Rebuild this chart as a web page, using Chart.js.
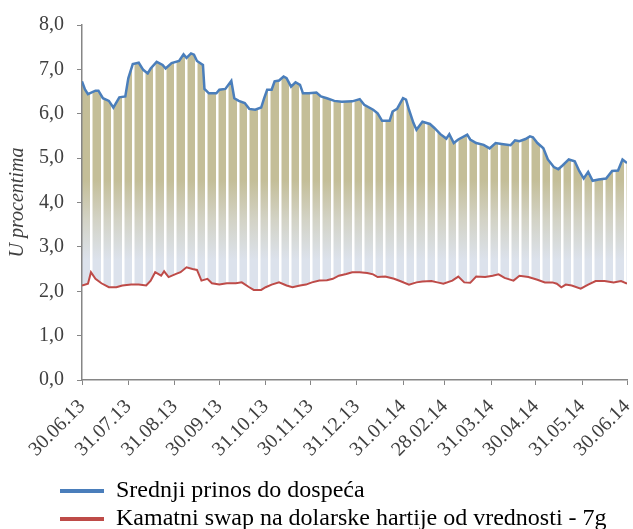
<!DOCTYPE html>
<html>
<head>
<meta charset="utf-8">
<script src="https://cdn.jsdelivr.net/npm/chart.js@4.4.1/dist/chart.umd.min.js"></script>
<style>
    html, body { margin: 0; padding: 0; background: #fff; }
    #wrap { width: 633px; height: 529px; }
</style>
</head>
<body>
<div id="wrap"><canvas id="yieldChart"></canvas></div>
<script>
// PODACI (dani od 30.06.13)
const tickDays = [0, 31, 62, 92, 123, 153, 184, 215, 243, 274, 304, 335, 365]
const tickLabels = ['30.06.13', '31.07.13', '31.08.13', '30.09.13', '31.10.13', '30.11.13',
    '31.12.13', '31.01.14', '28.02.14', '31.03.14', '30.04.14', '31.05.14', '30.06.14']

// Srednji prinos do dospeca
const yieldDays = [0, 2, 4, 9, 11, 14, 18, 21, 25, 29, 31, 34, 38, 41, 44, 46, 50, 54, 56, 60,
    65, 68, 70, 73, 75, 77, 81, 82, 85, 90, 92, 96, 100, 102, 105, 109, 112, 116, 120, 122,
    124, 127, 129, 132, 135, 137, 140, 143, 146, 148, 152, 157, 160, 164, 169, 174, 181, 186, 189, 195,
    198, 201, 206, 208, 211, 215, 217, 219, 222, 224, 228, 233, 236, 240, 244, 246, 249, 252, 258, 260,
    264, 269, 273, 277, 281, 287, 290, 293, 297, 300, 302, 305, 309, 312, 316, 319, 322, 326, 330, 333,
    336, 339, 342, 346, 351, 355, 359, 362, 365]
const yieldValues = [6.73, 6.55, 6.44, 6.52, 6.52, 6.35, 6.29, 6.14, 6.37, 6.39, 6.80, 7.12, 7.15, 6.99, 6.91, 7.02, 7.17, 7.10, 7.02, 7.14,
    7.19, 7.34, 7.26, 7.36, 7.33, 7.19, 7.10, 6.56, 6.46, 6.46, 6.54, 6.56, 6.74, 6.35, 6.29, 6.24, 6.11, 6.09, 6.14, 6.35,
    6.54, 6.54, 6.73, 6.75, 6.84, 6.80, 6.61, 6.71, 6.65, 6.46, 6.46, 6.48, 6.39, 6.35, 6.29, 6.27, 6.28, 6.33, 6.20, 6.09,
    6.01, 5.84, 5.84, 6.05, 6.11, 6.35, 6.32, 6.09, 5.79, 5.64, 5.82, 5.77, 5.68, 5.54, 5.44, 5.54, 5.34, 5.42, 5.53, 5.42,
    5.34, 5.30, 5.22, 5.34, 5.32, 5.29, 5.40, 5.38, 5.43, 5.49, 5.47, 5.34, 5.22, 4.97, 4.80, 4.75, 4.84, 4.97, 4.93, 4.71,
    4.54, 4.69, 4.49, 4.52, 4.54, 4.71, 4.72, 4.97, 4.89]

// Kamatni swap - 7g
const swapDays = [0, 4, 6, 9, 13, 18, 23, 27, 33, 38, 43, 46, 49, 53, 55, 58, 63, 66, 70, 74,
    77, 80, 84, 87, 92, 97, 103, 107, 112, 115, 120, 123, 127, 132, 137, 141, 146, 150, 154, 159,
    164, 168, 172, 177, 181, 186, 191, 195, 198, 203, 209, 213, 219, 224, 228, 234, 238, 242, 248, 252,
    256, 260, 264, 270, 275, 279, 283, 289, 293, 299, 305, 310, 315, 318, 321, 324, 328, 334, 339, 344,
    350, 356, 361, 365]
const swapValues = [2.13, 2.17, 2.43, 2.28, 2.18, 2.09, 2.09, 2.13, 2.15, 2.15, 2.13, 2.24, 2.43, 2.35, 2.45, 2.32, 2.39, 2.43, 2.54, 2.50,
    2.48, 2.24, 2.28, 2.18, 2.15, 2.18, 2.18, 2.20, 2.09, 2.03, 2.03, 2.09, 2.15, 2.20, 2.13, 2.09, 2.13, 2.15, 2.20, 2.24,
    2.25, 2.28, 2.35, 2.39, 2.43, 2.43, 2.41, 2.38, 2.32, 2.33, 2.28, 2.23, 2.15, 2.20, 2.22, 2.23, 2.20, 2.17, 2.24, 2.33,
    2.20, 2.19, 2.33, 2.32, 2.35, 2.38, 2.30, 2.24, 2.35, 2.32, 2.26, 2.20, 2.20, 2.17, 2.09, 2.15, 2.13, 2.06, 2.15, 2.23,
    2.23, 2.20, 2.23, 2.17]

const seriesNames = ['Srednji prinos do dospeća', 'Kamatni swap na dolarske hartije od vrednosti - 7g']
const seriesColors = ['#4A7EBB', '#BE4B48']

const FONT = "'Liberation Serif', 'Times New Roman', serif"
const TEXT = '#404040'
const AXIS = '#868686'

Chart.defaults.font.family = FONT
Chart.defaults.color = TEXT

// gradijent izmedju linija
function bandFill(context) {
    const chart = context.chart
    if (!chart.chartArea || !chart.scales.y) return '#C4BE98'
    const y = chart.scales.y
    const g = chart.ctx.createLinearGradient(0, y.getPixelForValue(4.5), 0, y.getPixelForValue(2.7))
    g.addColorStop(0, '#C4BE98')
    g.addColorStop(0.5, '#D3D3C6')
    g.addColorStop(1, '#DCE2EC')
    return g
}

// legenda: pomeri desno i nanize
const legendShift = {
    id: 'legendShift',
    afterLayout(chart) {
        const lg = chart.legend
        if (lg) {
            lg.left += 56
            lg.right += 56
            lg.top += 12
            lg.bottom += 12
        }
    }
}

new Chart(document.getElementById('yieldChart'), {
    type: 'line',
    data: {
        datasets: [
            {
                label: seriesNames[0],
                data: yieldDays.map((d, i) => ({ x: d, y: yieldValues[i] })),
                borderColor: seriesColors[0],
                backgroundColor: bandFill,
                borderWidth: 2.5,
                pointRadius: 0,
                tension: 0,
                fill: '+1',
                xAxisID: 'x'
            },
            {
                label: seriesNames[1],
                data: swapDays.map((d, i) => ({ x: d, y: swapValues[i] })),
                borderColor: seriesColors[1],
                backgroundColor: seriesColors[1],
                borderWidth: 2,
                pointRadius: 0,
                tension: 0,
                fill: false,
                xAxisID: 'x'
            }
        ]
    },
    options: {
        responsive: true,
        maintainAspectRatio: false,
        animation: false,
        layout: { padding: { top: 14, right: 6, left: 0, bottom: 0 } },
        plugins: {
            filler: { drawTime: 'beforeDraw' },
            tooltip: { enabled: false },
            legend: {
                position: 'bottom',
                align: 'start',
                labels: {
                    boxWidth: 44,
                    boxHeight: 4,
                    padding: 4,
                    color: TEXT,
                    font: { size: 24, family: FONT },
                    generateLabels: () => seriesNames.map((name, i) => ({
                        text: name,
                        fillStyle: seriesColors[i],
                        strokeStyle: seriesColors[i],
                        lineWidth: 0,
                        datasetIndex: i
                    }))
                }
            }
        },
        scales: {
            x: {
                type: 'linear',
                position: 'bottom',
                min: 0,
                max: 365,
                afterBuildTicks: (axis) => {
                    axis.ticks = tickDays.map((v) => ({ value: v }))
                },
                afterFit: (axis) => {
                    axis.height = 83
                    axis.paddingLeft = 0
                    axis.paddingRight = 0
                },
                ticks: {
                    autoSkip: false,
                    minRotation: 45,
                    maxRotation: 45,
                    padding: 10,
                    color: TEXT,
                    font: { size: 20 },
                    callback: (value) => tickLabels[tickDays.indexOf(value)]
                },
                grid: { drawOnChartArea: false, drawTicks: true, tickLength: 5, color: AXIS },
                border: { color: AXIS, width: 1.5 }
            },
            x2: {
                // bele pruge (nedeljne)
                type: 'linear',
                position: 'top',
                min: 0,
                max: 365,
                afterBuildTicks: (axis) => {
                    const t = []
                    for (let v = 6.5; v < 365; v += 7) t.push({ value: v })
                    axis.ticks = t
                },
                ticks: { display: false },
                grid: { color: '#ffffff', lineWidth: 2.5, drawTicks: false },
                border: { display: false }
            },
            y: {
                min: 0,
                max: 8,
                afterFit: (axis) => { axis.width = 82 },
                ticks: {
                    stepSize: 1,
                    padding: 13,
                    color: TEXT,
                    font: { size: 20 },
                    callback: (v) => v.toFixed(1).replace('.', ',')
                },
                title: {
                    display: true,
                    text: 'U procentima',
                    color: TEXT,
                    padding: { top: 6, bottom: 0 },
                    font: { size: 20, style: 'italic', family: FONT }
                },
                grid: { drawOnChartArea: false, drawTicks: true, tickLength: 5, color: AXIS },
                border: { color: AXIS, width: 1.5 }
            }
        }
    },
    plugins: [legendShift]
})
</script>
</body>
</html>
